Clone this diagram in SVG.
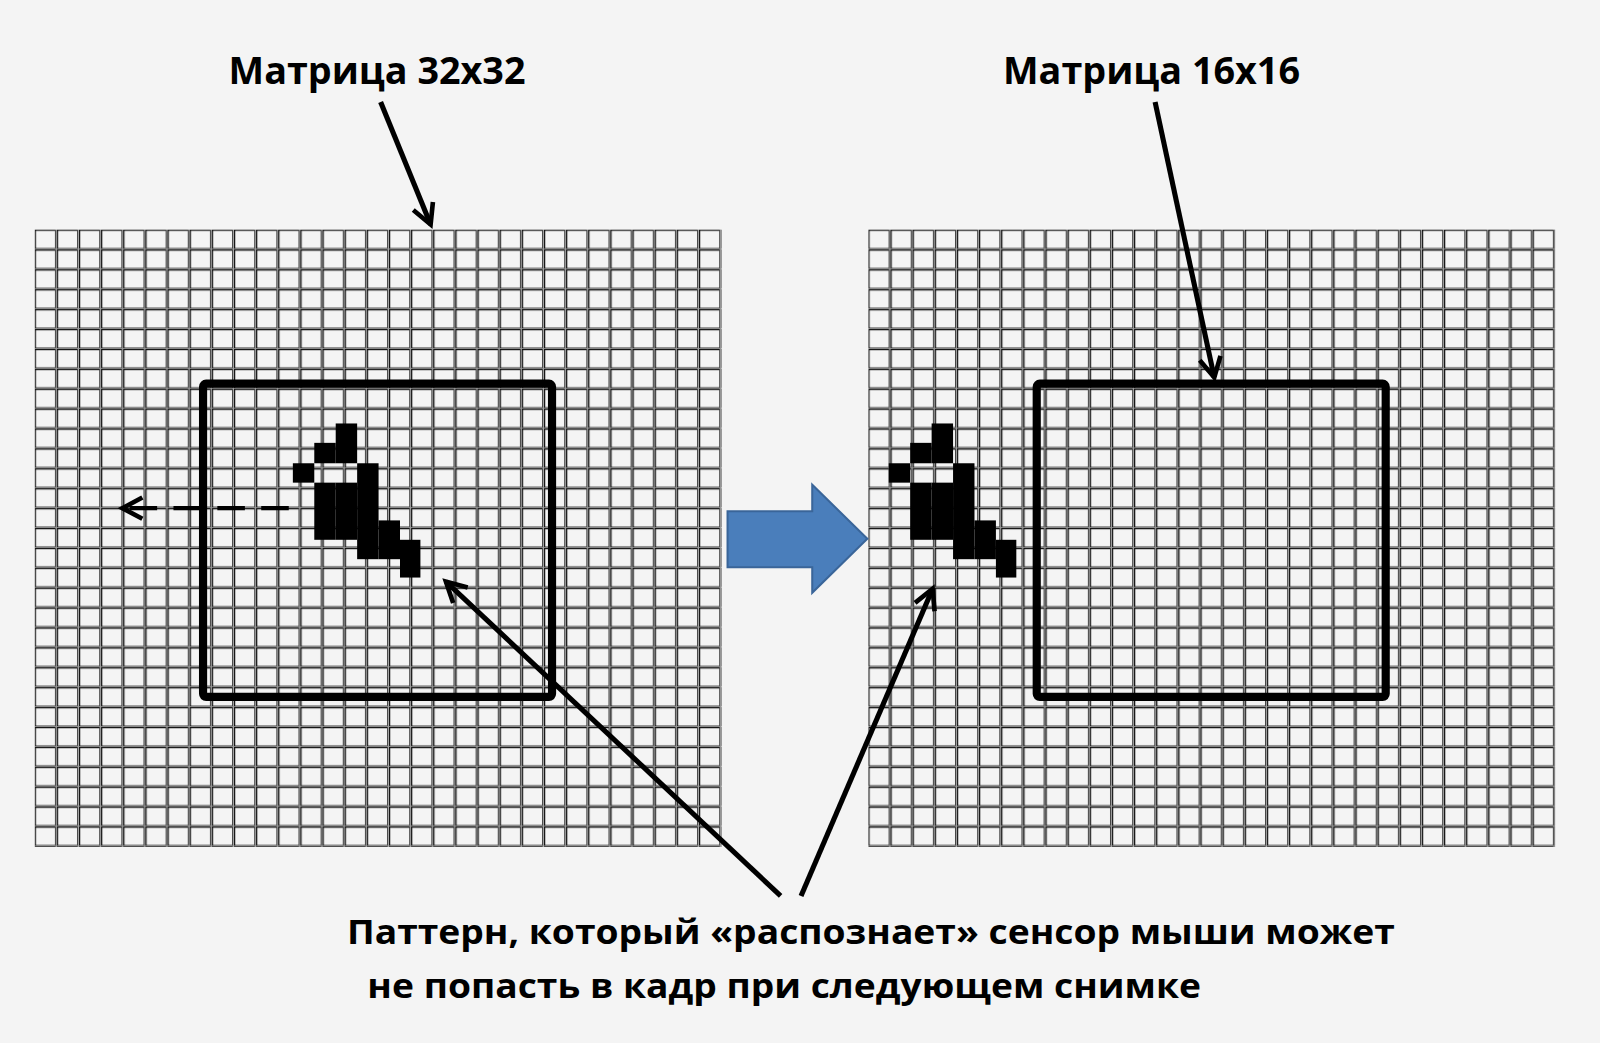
<svg xmlns="http://www.w3.org/2000/svg" width="1600" height="1043" viewBox="0 0 1600 1043">
<style>
.t{font-family:"Open Sans","Liberation Sans",sans-serif;font-weight:bold;fill:#000}
.frame{fill:none;stroke:#000;stroke-width:8;stroke-linejoin:round}
.arr{stroke:#000;stroke-width:5;fill:none}
.px{fill:#000}
</style>
<defs>
<pattern id="g" patternUnits="userSpaceOnUse" x="34" y="225" width="21.7" height="19.5">
<rect x="0.6" y="0.6" width="19.8" height="18.1" fill="none" stroke="#111" stroke-width="1.2"/>
<line x1="20.9" y1="0" x2="20.9" y2="19.5" stroke="#999" stroke-width="1"/>
<line x1="0" y1="19.05" x2="21.7" y2="19.05" stroke="#999" stroke-width="0.8"/>
</pattern>
<pattern id="g2" patternUnits="userSpaceOnUse" x="851" y="225" width="21.7" height="19.5">
<rect x="0.6" y="0.6" width="19.8" height="18.1" fill="none" stroke="#111" stroke-width="1.2"/>
<line x1="20.9" y1="0" x2="20.9" y2="19.5" stroke="#999" stroke-width="1"/>
<line x1="0" y1="19.05" x2="21.7" y2="19.05" stroke="#999" stroke-width="0.8"/>
</pattern>
<marker id="a" viewBox="0 0 20 20" refX="17" refY="10" markerWidth="26" markerHeight="26" markerUnits="userSpaceOnUse" orient="auto" overflow="visible">
<path d="M2,2 L17,10 L2,18" fill="none" stroke="#000" stroke-width="3.5"/>
</marker>
<g id="pat">
<rect class="px" x="287" y="454" width="21" height="19"/>
<rect class="px" x="308" y="434" width="21" height="20"/>
<rect class="px" x="308" y="473" width="21" height="56"/>
<rect class="px" x="329" y="415" width="21" height="39"/>
<rect class="px" x="329" y="473" width="21" height="56"/>
<rect class="px" x="350" y="454" width="21" height="94"/>
<rect class="px" x="371" y="510" width="21" height="38"/>
<rect class="px" x="392" y="529" width="20" height="37"/>
</g>
</defs>
<rect width="1600" height="1043" fill="#f4f4f4"/>
<g transform="scale(1.0204)">
<g id="grid-left"><rect x="34" y="225" width="673" height="605" fill="url(#g)"/></g>
<g id="grid-right"><rect x="851" y="225" width="673" height="605" fill="url(#g2)"/></g>
<g id="pattern-left"><use href="#pat"/></g>
<g id="pattern-right"><use href="#pat" x="584"/></g>
<g id="frame-left"><rect class="frame" x="199" y="376" width="342" height="307" rx="3"/></g>
<g id="frame-right"><rect class="frame" x="1016" y="376" width="342" height="307" rx="3"/></g>
<g id="blue-arrow"><path d="M713,501 H796 V475 L850,528 L796,581 V556 H713 Z" fill="#4a7ebb" stroke="#3a6599" stroke-width="2"/></g>
<g id="label-32"><text class="t" x="224" y="82" font-size="36" textLength="291" lengthAdjust="spacingAndGlyphs">Матрица 32x32</text></g>
<g id="label-16"><text class="t" x="983" y="82" font-size="36" textLength="291" lengthAdjust="spacingAndGlyphs">Матрица 16x16</text></g>
<g id="caption">
<text class="t" x="340" y="925" font-size="34" textLength="1027" lengthAdjust="spacingAndGlyphs">Паттерн, который «распознает» сенсор мыши может</text>
<text class="t" x="360" y="978" font-size="34" textLength="817" lengthAdjust="spacingAndGlyphs">не попасть в кадр при следующем снимке</text>
</g>
<g id="connectors">
<line class="arr" x1="373" y1="100" x2="422" y2="220" marker-end="url(#a)"/>
<line class="arr" x1="1132" y1="100" x2="1190" y2="370" marker-end="url(#a)"/>
<line class="arr" x1="765" y1="878" x2="437" y2="570" marker-end="url(#a)"/>
<line class="arr" x1="785" y1="878" x2="914" y2="577" marker-end="url(#a)"/>
<line x1="283" y1="498" x2="120" y2="498" stroke="#000" stroke-width="4" stroke-dasharray="27,16" marker-end="url(#a)"/>
</g>
</g>
</svg>
